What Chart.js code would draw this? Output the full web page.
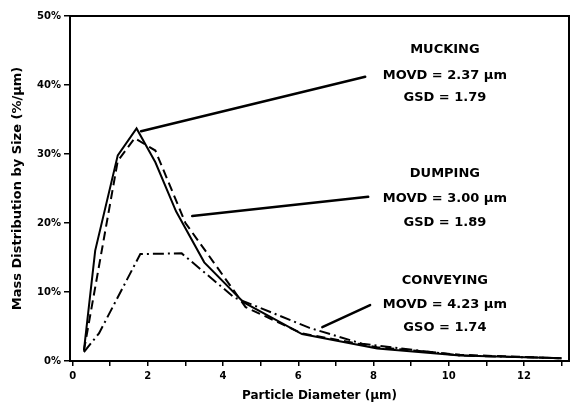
<!DOCTYPE html>
<html lang="en">
<head>
  <meta charset="UTF-8">
  <title>Mass Distribution by Size</title>
  <script src="https://cdn.jsdelivr.net/npm/chart.js@4.4.1/dist/chart.umd.min.js"></script>
  <style>
    body { margin: 0; background: #fff; }
    #wrap { width: 573px; height: 407px; }
  </style>
</head>
<body>
  <div id="wrap"><canvas id="chart"></canvas></div>
  <script>
    // values (x in µm, y in %/µm)
    const muckingX = [0.3, 0.6, 1.2, 1.7, 2.2, 2.75, 3.5, 4.55, 6.1, 8.1, 10.3, 13];
    const muckingY = [1.5, 16, 29.8, 33.7, 28.8, 21.7, 14.3, 8.5, 3.9, 1.8, 0.8, 0.4];

    const dumpingX = [0.3, 1.2, 1.65, 2.2, 3.0, 3.75, 4.6, 6.1, 8.1, 10.3, 13];
    const dumpingY = [1.5, 29, 32.3, 30.5, 20, 14.3, 7.8, 4.0, 2.0, 0.9, 0.4];

    const conveyingX = [0.3, 0.7, 1.8, 2.9, 4.3, 6.3, 7.7, 10.3, 13];
    const conveyingY = [1.3, 4.0, 15.5, 15.6, 9.2, 4.8, 2.5, 0.8, 0.4];

    const xTicks = [0, 1, 2, 3, 4, 5, 6, 7, 8, 9, 10, 11, 12, 13];
    const xTickLabels = ['0', '', '2', '', '4', '', '6', '', '8', '', '10', '', '12', ''];
    const yTicks = [0, 10, 20, 30, 40, 50];

    const notes = [
      ['MUCKING', 'MOVD = 2.37 µm', 'GSD = 1.79'],
      ['DUMPING', 'MOVD = 3.00 µm', 'GSD = 1.89'],
      ['CONVEYING', 'MOVD = 4.23 µm', 'GSO = 1.74']
    ];

    // where the notes and their leader lines sit, in data units
    const noteX = 9.9;
    const noteY = [[45.1, 41.4, 38.1], [27.2, 23.6, 20.1], [11.7, 8.1, 4.8]];
    const leaders = [
      [1.82, 33.3, 7.78, 41.2],
      [3.18, 21.0, 7.86, 23.8],
      [6.64, 4.9, 7.91, 8.1]
    ];

    const pts = (xs, ys) => xs.map((v, i) => ({ x: v, y: ys[i] }));
    const tickFont = { family: 'DejaVu Sans', size: 10, weight: 'bold' };
    const titleFont = { family: 'DejaVu Sans', size: 12, weight: 'bold' };

    const notesPlugin = {
      id: 'notes',
      afterDatasetsDraw(chart) {
        const { ctx, scales: { x, y } } = chart;
        ctx.save();
        ctx.strokeStyle = '#000';
        ctx.lineWidth = 2.5;
        ctx.lineCap = 'round';
        leaders.forEach(l => {
          ctx.beginPath();
          ctx.moveTo(x.getPixelForValue(l[0]), y.getPixelForValue(l[1]));
          ctx.lineTo(x.getPixelForValue(l[2]), y.getPixelForValue(l[3]));
          ctx.stroke();
        });
        ctx.fillStyle = '#000';
        ctx.font = 'bold 13px "DejaVu Sans"';
        ctx.textAlign = 'center';
        ctx.textBaseline = 'middle';
        notes.forEach((group, i) => {
          group.forEach((t, j) => {
            ctx.fillText(t, x.getPixelForValue(noteX), y.getPixelForValue(noteY[i][j]));
          });
        });
        ctx.restore();
      }
    };

    const line = (label, data, dash) => ({
      label: label,
      data: data,
      borderColor: '#000',
      borderWidth: 2,
      borderDash: dash,
      pointRadius: 0,
      tension: 0,
      fill: false
    });

    new Chart(document.getElementById('chart'), {
      type: 'line',
      data: {
        datasets: [
          line('Mucking', pts(muckingX, muckingY), []),
          line('Dumping', pts(dumpingX, dumpingY), [9, 5]),
          line('Conveying', pts(conveyingX, conveyingY), [11, 4, 2, 4])
        ]
      },
      options: {
        responsive: true,
        maintainAspectRatio: false,
        animation: false,
        layout: { padding: { left: 6, right: 4, top: 16, bottom: 2 } },
        plugins: { legend: { display: false }, tooltip: { enabled: false } },
        scales: {
          x: {
            type: 'linear',
            min: -0.07,
            max: 13.2,
            afterBuildTicks: s => { s.ticks = xTicks.map(v => ({ value: v })); },
            afterFit: s => { s.height = 44; },
            ticks: {
              autoSkip: false,
              maxRotation: 0,
              padding: 4,
              color: '#000',
              font: tickFont,
              callback: (v, i) => xTickLabels[i]
            },
            grid: { drawOnChartArea: false, color: '#000', tickLength: 5, lineWidth: 1.5 },
            border: { color: '#000', width: 2 },
            title: { display: true, text: 'Particle Diameter (µm)', color: '#000', font: titleFont, padding: { top: 0, bottom: 2 } }
          },
          y: {
            min: 0,
            max: 50,
            afterBuildTicks: s => { s.ticks = yTicks.map(v => ({ value: v })); },
            afterFit: s => { s.width = 64; },
            ticks: {
              padding: 3,
              color: '#000',
              font: tickFont,
              callback: v => v + '%'
            },
            grid: { drawOnChartArea: false, color: '#000', tickLength: 6, lineWidth: 1.5 },
            border: { color: '#000', width: 2 },
            title: { display: true, text: 'Mass Distribution by Size (%/µm)', color: '#000', font: { family: 'DejaVu Sans', size: 13, weight: 'bold' }, padding: { top: 4, bottom: 0 } }
          },
          top: {
            type: 'linear',
            position: 'top',
            min: 0,
            max: 1,
            afterFit: s => { s.height = 0; },
            ticks: { display: false },
            grid: { display: false, drawTicks: false },
            border: { color: '#000', width: 2 }
          },
          right: {
            type: 'linear',
            position: 'right',
            min: 0,
            max: 1,
            afterFit: s => { s.width = 0; },
            ticks: { display: false },
            grid: { display: false, drawTicks: false },
            border: { color: '#000', width: 2 }
          }
        }
      },
      plugins: [notesPlugin]
    });
  </script>
</body>
</html>
